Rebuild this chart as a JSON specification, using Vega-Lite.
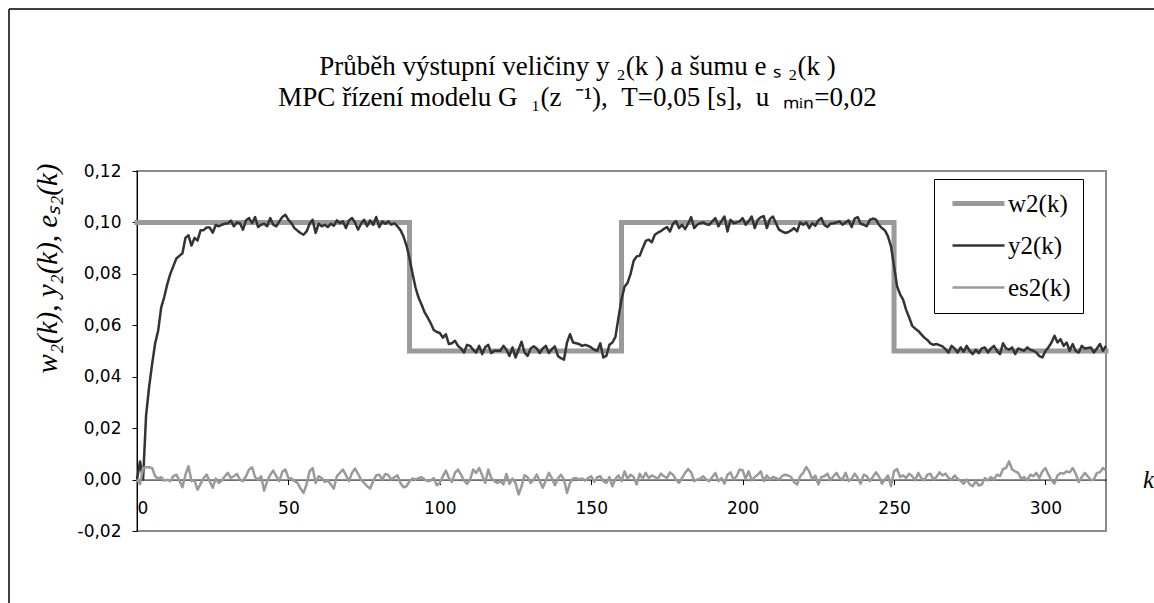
{
  "$schema": "https://vega.github.io/schema/vega-lite/v6.json",
  "autosize": {"type": "none"},
  "width": 969,
  "height": 360,
  "padding": {"left": 137, "top": 171, "right": 48, "bottom": 72},
  "background": "white",
  "title": {
    "text": ["Průběh výstupní veličiny y ₂(k ) a šumu e ₛ ₂(k )", "MPC řízení modelu G\u2002₁(z\u2002⁻¹),\u2002T=0,05 [s],\u2002u\u2002ₘᵢₙ=0,02"],
    "font": "Liberation Serif",
    "fontSize": 27,
    "fontWeight": "normal",
    "color": "black",
    "anchor": "middle",
    "frame": "group",
    "dx": -44,
    "offset": -104,
    "lineHeight": 31
  },
  "config": {
    "view": {"stroke": "#8c8c8c", "strokeWidth": 2},
    "axis": {
      "grid": false,
      "domainColor": "black",
      "domainWidth": 1,
      "tickColor": "black",
      "tickSize": 5,
      "labelColor": "black",
      "labelFont": "DejaVu Sans",
      "labelFontSize": 17,
      "titleColor": "black",
      "titleFont": "Liberation Serif",
      "titleFontStyle": "italic",
      "titleFontWeight": "normal"
    },
    "legend": {
      "title": null,
      "orient": "none",
      "legendX": 797,
      "legendY": 8,
      "strokeColor": "black",
      "fillColor": "white",
      "padding": 12,
      "symbolType": "M-2.6,0H2.6",
      "symbolSize": 400,
      "symbolOffset": 20,
      "labelFont": "Liberation Serif",
      "labelFontSize": 25,
      "labelColor": "black",
      "labelOffset": 17,
      "rowPadding": 16
    }
  },
  "datasets": {
    "main": [
      {"k":0,"y2(k)":0,"es2(k)":0},{"k":1,"y2(k)":0.007,"es2(k)":-0.0017},{"k":2,"y2(k)":0.0,"es2(k)":0.0045},{"k":3,"y2(k)":0.025,"es2(k)":0.0048},{"k":4,"y2(k)":0.036,"es2(k)":0.0048},{"k":5,"y2(k)":0.045,"es2(k)":0.0045},{"k":6,"y2(k)":0.053,"es2(k)":0.0013},{"k":7,"y2(k)":0.058,"es2(k)":0.0004},{"k":8,"y2(k)":0.067,"es2(k)":0.0009},{"k":9,"y2(k)":0.071,"es2(k)":-0.0004},
      {"k":10,"y2(k)":0.076,"es2(k)":-0.0001},{"k":11,"y2(k)":0.080,"es2(k)":-0.0006},{"k":12,"y2(k)":0.083,"es2(k)":0.0013},{"k":13,"y2(k)":0.086,"es2(k)":0.0019},{"k":14,"y2(k)":0.087,"es2(k)":-0.0004},{"k":15,"y2(k)":0.088,"es2(k)":-0.003},{"k":16,"y2(k)":0.094,"es2(k)":0.0019},{"k":17,"y2(k)":0.095,"es2(k)":0.0052},{"k":18,"y2(k)":0.091,"es2(k)":-0.0006},{"k":19,"y2(k)":0.094,"es2(k)":-0.0004},
      {"k":20,"y2(k)":0.093,"es2(k)":-0.0039},{"k":21,"y2(k)":0.097,"es2(k)":-0.0017},{"k":22,"y2(k)":0.097,"es2(k)":0.0006},{"k":23,"y2(k)":0.098,"es2(k)":0.0019},{"k":24,"y2(k)":0.098,"es2(k)":-0.0006},{"k":25,"y2(k)":0.096,"es2(k)":-0.0032},{"k":26,"y2(k)":0.099,"es2(k)":0.0004},{"k":27,"y2(k)":0.0985,"es2(k)":-0.0013},{"k":28,"y2(k)":0.0991,"es2(k)":-0.0004},{"k":29,"y2(k)":0.0995,"es2(k)":0.0013},
      {"k":30,"y2(k)":0.0997,"es2(k)":0.0026},{"k":31,"y2(k)":0.1007,"es2(k)":0.0006},{"k":32,"y2(k)":0.0985,"es2(k)":0.0013},{"k":33,"y2(k)":0.1,"es2(k)":0.0022},{"k":34,"y2(k)":0.0997,"es2(k)":0},{"k":35,"y2(k)":0.0972,"es2(k)":-0.0006},{"k":36,"y2(k)":0.1008,"es2(k)":0.0013},{"k":37,"y2(k)":0.1017,"es2(k)":0.0039},{"k":38,"y2(k)":0.0997,"es2(k)":0.0048},{"k":39,"y2(k)":0.1021,"es2(k)":0.0009},
      {"k":40,"y2(k)":0.0982,"es2(k)":0},{"k":41,"y2(k)":0.0991,"es2(k)":0.0013},{"k":42,"y2(k)":0.0995,"es2(k)":-0.0043},{"k":43,"y2(k)":0.0985,"es2(k)":-0.0006},{"k":44,"y2(k)":0.1017,"es2(k)":0.0019},{"k":45,"y2(k)":0.0991,"es2(k)":0.0035},{"k":46,"y2(k)":0.0985,"es2(k)":0.0013},{"k":47,"y2(k)":0.1004,"es2(k)":-0.0006},{"k":48,"y2(k)":0.1021,"es2(k)":0.003},{"k":49,"y2(k)":0.103,"es2(k)":0.0039},
      {"k":50,"y2(k)":0.101,"es2(k)":0.0006},{"k":51,"y2(k)":0.0997,"es2(k)":0.0004},{"k":52,"y2(k)":0.0978,"es2(k)":-0.0006},{"k":53,"y2(k)":0.0968,"es2(k)":-0.0013},{"k":54,"y2(k)":0.0959,"es2(k)":-0.0035},{"k":55,"y2(k)":0.0952,"es2(k)":-0.0052},{"k":56,"y2(k)":0.0965,"es2(k)":-0.0019},{"k":57,"y2(k)":0.0995,"es2(k)":0.0032},{"k":58,"y2(k)":0.101,"es2(k)":0.0045},{"k":59,"y2(k)":0.0959,"es2(k)":-0.0013},
      {"k":60,"y2(k)":0.0995,"es2(k)":0.0013},{"k":61,"y2(k)":0.0985,"es2(k)":0.0006},{"k":62,"y2(k)":0.0991,"es2(k)":-0.0009},{"k":63,"y2(k)":0.0982,"es2(k)":-0.0004},{"k":64,"y2(k)":0.0995,"es2(k)":-0.0019},{"k":65,"y2(k)":0.0987,"es2(k)":-0.0035},{"k":66,"y2(k)":0.1008,"es2(k)":0.0013},{"k":67,"y2(k)":0.0997,"es2(k)":0.0026},{"k":68,"y2(k)":0.1004,"es2(k)":0.0039},{"k":69,"y2(k)":0.0978,"es2(k)":0.0017},
      {"k":70,"y2(k)":0.1008,"es2(k)":-0.0006},{"k":71,"y2(k)":0.1017,"es2(k)":0.0026},{"k":72,"y2(k)":0.1,"es2(k)":0.0043},{"k":73,"y2(k)":0.0972,"es2(k)":0.0022},{"k":74,"y2(k)":0.0995,"es2(k)":0},{"k":75,"y2(k)":0.101,"es2(k)":-0.0013},{"k":76,"y2(k)":0.0985,"es2(k)":-0.0026},{"k":77,"y2(k)":0.1008,"es2(k)":-0.0035},{"k":78,"y2(k)":0.0991,"es2(k)":-0.0006},{"k":79,"y2(k)":0.1021,"es2(k)":0.0017},
      {"k":80,"y2(k)":0.0982,"es2(k)":0.0019},{"k":81,"y2(k)":0.1004,"es2(k)":0},{"k":82,"y2(k)":0.0995,"es2(k)":0.0022},{"k":83,"y2(k)":0.1004,"es2(k)":0.0017},{"k":84,"y2(k)":0.0991,"es2(k)":0},{"k":85,"y2(k)":0.0997,"es2(k)":0.0009},{"k":86,"y2(k)":0.0985,"es2(k)":0.0017},{"k":87,"y2(k)":0.097,"es2(k)":-0.0013},{"k":88,"y2(k)":0.0946,"es2(k)":-0.003},{"k":89,"y2(k)":0.091,"es2(k)":-0.0026},
      {"k":90,"y2(k)":0.086,"es2(k)":-0.0006},{"k":91,"y2(k)":0.080,"es2(k)":0.0004},{"k":92,"y2(k)":0.0746,"es2(k)":0},{"k":93,"y2(k)":0.0707,"es2(k)":0.0006},{"k":94,"y2(k)":0.068,"es2(k)":0.0009},{"k":95,"y2(k)":0.065,"es2(k)":0},{"k":96,"y2(k)":0.063,"es2(k)":-0.0006},{"k":97,"y2(k)":0.0608,"es2(k)":-0.0004},{"k":98,"y2(k)":0.0582,"es2(k)":0.0006},{"k":99,"y2(k)":0.0574,"es2(k)":-0.0022},
      {"k":100,"y2(k)":0.057,"es2(k)":-0.0013},{"k":101,"y2(k)":0.0552,"es2(k)":0.0013},{"k":102,"y2(k)":0.0565,"es2(k)":0.0035},{"k":103,"y2(k)":0.0527,"es2(k)":0.0006},{"k":104,"y2(k)":0.053,"es2(k)":-0.0009},{"k":105,"y2(k)":0.054,"es2(k)":0.0026},{"k":106,"y2(k)":0.052,"es2(k)":0.0039},{"k":107,"y2(k)":0.051,"es2(k)":0.0019},{"k":108,"y2(k)":0.0494,"es2(k)":-0.0004},{"k":109,"y2(k)":0.0524,"es2(k)":-0.0017},
      {"k":110,"y2(k)":0.052,"es2(k)":0},{"k":111,"y2(k)":0.0505,"es2(k)":0.0039},{"k":112,"y2(k)":0.0494,"es2(k)":0.0026},{"k":113,"y2(k)":0.052,"es2(k)":0.0045},{"k":114,"y2(k)":0.0488,"es2(k)":0.0017},{"k":115,"y2(k)":0.0515,"es2(k)":-0.0013},{"k":116,"y2(k)":0.0524,"es2(k)":0.0039},{"k":117,"y2(k)":0.0492,"es2(k)":0.0006},{"k":118,"y2(k)":0.0501,"es2(k)":-0.0006},{"k":119,"y2(k)":0.0501,"es2(k)":-0.0013},
      {"k":120,"y2(k)":0.0501,"es2(k)":-0.0006},{"k":121,"y2(k)":0.052,"es2(k)":-0.0019},{"k":122,"y2(k)":0.0505,"es2(k)":0.0022},{"k":123,"y2(k)":0.0481,"es2(k)":-0.0017},{"k":124,"y2(k)":0.0514,"es2(k)":0.0004},{"k":125,"y2(k)":0.0475,"es2(k)":-0.0013},{"k":126,"y2(k)":0.0505,"es2(k)":-0.0058},{"k":127,"y2(k)":0.0536,"es2(k)":-0.0026},{"k":128,"y2(k)":0.0494,"es2(k)":0.0017},{"k":129,"y2(k)":0.0481,"es2(k)":0.0009},
      {"k":130,"y2(k)":0.051,"es2(k)":-0.0013},{"k":131,"y2(k)":0.0518,"es2(k)":0},{"k":132,"y2(k)":0.051,"es2(k)":0.0019},{"k":133,"y2(k)":0.0492,"es2(k)":-0.0006},{"k":134,"y2(k)":0.051,"es2(k)":-0.0032},{"k":135,"y2(k)":0.052,"es2(k)":-0.0004},{"k":136,"y2(k)":0.0492,"es2(k)":0.0026},{"k":137,"y2(k)":0.0507,"es2(k)":0.0006},{"k":138,"y2(k)":0.0518,"es2(k)":-0.0022},{"k":139,"y2(k)":0.0481,"es2(k)":0.0004},
      {"k":140,"y2(k)":0.0472,"es2(k)":0.0019},{"k":141,"y2(k)":0.0466,"es2(k)":0},{"k":142,"y2(k)":0.0533,"es2(k)":-0.0052},{"k":143,"y2(k)":0.0565,"es2(k)":-0.0013},{"k":144,"y2(k)":0.0533,"es2(k)":0.0004},{"k":145,"y2(k)":0.053,"es2(k)":0.0006},{"k":146,"y2(k)":0.0527,"es2(k)":0},{"k":147,"y2(k)":0.052,"es2(k)":0.0004},{"k":148,"y2(k)":0.0524,"es2(k)":-0.0004},{"k":149,"y2(k)":0.052,"es2(k)":0.0006},
      {"k":150,"y2(k)":0.0514,"es2(k)":0.0013},{"k":151,"y2(k)":0.0505,"es2(k)":-0.0009},{"k":152,"y2(k)":0.0501,"es2(k)":0.0009},{"k":153,"y2(k)":0.053,"es2(k)":0.0013},{"k":154,"y2(k)":0.0475,"es2(k)":-0.0006},{"k":155,"y2(k)":0.0481,"es2(k)":-0.0013},{"k":156,"y2(k)":0.0524,"es2(k)":0.001},{"k":157,"y2(k)":0.0533,"es2(k)":-0.0026},{"k":158,"y2(k)":0.0555,"es2(k)":0.0003},{"k":159,"y2(k)":0.063,"es2(k)":0.0016},
      {"k":160,"y2(k)":0.070,"es2(k)":-0.0006},{"k":161,"y2(k)":0.075,"es2(k)":0.0032},{"k":162,"y2(k)":0.0765,"es2(k)":0.0003},{"k":163,"y2(k)":0.080,"es2(k)":0.0019},{"k":164,"y2(k)":0.085,"es2(k)":0.001},{"k":165,"y2(k)":0.0868,"es2(k)":-0.0019},{"k":166,"y2(k)":0.087,"es2(k)":0.0023},{"k":167,"y2(k)":0.090,"es2(k)":0.0003},{"k":168,"y2(k)":0.0928,"es2(k)":0.0026},{"k":169,"y2(k)":0.0933,"es2(k)":0.0006},
      {"k":170,"y2(k)":0.0923,"es2(k)":0.0016},{"k":171,"y2(k)":0.0952,"es2(k)":0.001},{"k":172,"y2(k)":0.096,"es2(k)":0.0003},{"k":173,"y2(k)":0.0966,"es2(k)":0.0023},{"k":174,"y2(k)":0.0975,"es2(k)":0.0013},{"k":175,"y2(k)":0.0982,"es2(k)":0.0006},{"k":176,"y2(k)":0.0965,"es2(k)":0.0028},{"k":177,"y2(k)":0.0995,"es2(k)":0.0019},{"k":178,"y2(k)":0.1005,"es2(k)":0},{"k":179,"y2(k)":0.0978,"es2(k)":-0.0013},
      {"k":180,"y2(k)":0.0991,"es2(k)":0.0006},{"k":181,"y2(k)":0.0974,"es2(k)":0.0026},{"k":182,"y2(k)":0.0995,"es2(k)":0.0041},{"k":183,"y2(k)":0.1021,"es2(k)":0.0028},{"k":184,"y2(k)":0.0978,"es2(k)":-0.0006},{"k":185,"y2(k)":0.0991,"es2(k)":0},{"k":186,"y2(k)":0.0997,"es2(k)":0.0003},{"k":187,"y2(k)":0.1,"es2(k)":0.0013},{"k":188,"y2(k)":0.0993,"es2(k)":0},{"k":189,"y2(k)":0.0991,"es2(k)":-0.0006},
      {"k":190,"y2(k)":0.1004,"es2(k)":0.001},{"k":191,"y2(k)":0.1017,"es2(k)":0.0026},{"k":192,"y2(k)":0.0985,"es2(k)":-0.0006},{"k":193,"y2(k)":0.1005,"es2(k)":0.0006},{"k":194,"y2(k)":0.1023,"es2(k)":-0.0016},{"k":195,"y2(k)":0.0965,"es2(k)":0.0019},{"k":196,"y2(k)":0.101,"es2(k)":0.0028},{"k":197,"y2(k)":0.0997,"es2(k)":0},{"k":198,"y2(k)":0.1,"es2(k)":0.0013},{"k":199,"y2(k)":0.1004,"es2(k)":0.0039},
      {"k":200,"y2(k)":0.1017,"es2(k)":0.0036},{"k":201,"y2(k)":0.0991,"es2(k)":0.0003},{"k":202,"y2(k)":0.1005,"es2(k)":0.0032},{"k":203,"y2(k)":0.1023,"es2(k)":-0.0003},{"k":204,"y2(k)":0.0978,"es2(k)":0.001},{"k":205,"y2(k)":0.101,"es2(k)":0.0019},{"k":206,"y2(k)":0.102,"es2(k)":0.0032},{"k":207,"y2(k)":0.1024,"es2(k)":-0.0006},{"k":208,"y2(k)":0.0978,"es2(k)":0.0016},{"k":209,"y2(k)":0.1013,"es2(k)":0},
      {"k":210,"y2(k)":0.1023,"es2(k)":0.001},{"k":211,"y2(k)":0.0997,"es2(k)":0.0006},{"k":212,"y2(k)":0.0972,"es2(k)":0},{"k":213,"y2(k)":0.0965,"es2(k)":0.0013},{"k":214,"y2(k)":0.0959,"es2(k)":0.0019},{"k":215,"y2(k)":0.0962,"es2(k)":0.0016},{"k":216,"y2(k)":0.0969,"es2(k)":0.001},{"k":217,"y2(k)":0.0978,"es2(k)":-0.001},{"k":218,"y2(k)":0.0965,"es2(k)":-0.0019},{"k":219,"y2(k)":0.1,"es2(k)":0.0013},
      {"k":220,"y2(k)":0.0991,"es2(k)":0.0026},{"k":221,"y2(k)":0.1,"es2(k)":0.0049},{"k":222,"y2(k)":0.0978,"es2(k)":0.0032},{"k":223,"y2(k)":0.0997,"es2(k)":0},{"k":224,"y2(k)":0.0987,"es2(k)":0.0016},{"k":225,"y2(k)":0.1008,"es2(k)":-0.0019},{"k":226,"y2(k)":0.1017,"es2(k)":0.001},{"k":227,"y2(k)":0.099,"es2(k)":0.0013},{"k":228,"y2(k)":0.0982,"es2(k)":0.0023},{"k":229,"y2(k)":0.0995,"es2(k)":-0.0003},
      {"k":230,"y2(k)":0.0997,"es2(k)":0.0013},{"k":231,"y2(k)":0.1,"es2(k)":0.0026},{"k":232,"y2(k)":0.1004,"es2(k)":0.0006},{"k":233,"y2(k)":0.0991,"es2(k)":0},{"k":234,"y2(k)":0.1,"es2(k)":0.0026},{"k":235,"y2(k)":0.1008,"es2(k)":-0.0006},{"k":236,"y2(k)":0.0982,"es2(k)":0.0003},{"k":237,"y2(k)":0.1015,"es2(k)":0.0023},{"k":238,"y2(k)":0.1021,"es2(k)":0.0006},{"k":239,"y2(k)":0.0995,"es2(k)":-0.0016},
      {"k":240,"y2(k)":0.0991,"es2(k)":0.0019},{"k":241,"y2(k)":0.0985,"es2(k)":0.0013},{"k":242,"y2(k)":0.101,"es2(k)":-0.0006},{"k":243,"y2(k)":0.1015,"es2(k)":0.001},{"k":244,"y2(k)":0.1012,"es2(k)":0.0028},{"k":245,"y2(k)":0.0991,"es2(k)":0.0013},{"k":246,"y2(k)":0.0978,"es2(k)":-0.0016},{"k":247,"y2(k)":0.0969,"es2(k)":0},{"k":248,"y2(k)":0.0946,"es2(k)":0.0016},{"k":249,"y2(k)":0.0907,"es2(k)":-0.0026},
      {"k":250,"y2(k)":0.083,"es2(k)":0.0032},{"k":251,"y2(k)":0.0752,"es2(k)":0.0041},{"k":252,"y2(k)":0.072,"es2(k)":0.001},{"k":253,"y2(k)":0.070,"es2(k)":0.0016},{"k":254,"y2(k)":0.066,"es2(k)":0.0006},{"k":255,"y2(k)":0.063,"es2(k)":0.0023},{"k":256,"y2(k)":0.0598,"es2(k)":0.0013},{"k":257,"y2(k)":0.0587,"es2(k)":-0.0003},{"k":258,"y2(k)":0.0578,"es2(k)":0.0026},{"k":259,"y2(k)":0.0565,"es2(k)":0.0006},
      {"k":260,"y2(k)":0.0552,"es2(k)":-0.0003},{"k":261,"y2(k)":0.0543,"es2(k)":0.0019},{"k":262,"y2(k)":0.053,"es2(k)":0.0023},{"k":263,"y2(k)":0.0524,"es2(k)":0},{"k":264,"y2(k)":0.0527,"es2(k)":0.001},{"k":265,"y2(k)":0.0523,"es2(k)":0.0028},{"k":266,"y2(k)":0.0518,"es2(k)":0.0016},{"k":267,"y2(k)":0.0507,"es2(k)":0.0023},{"k":268,"y2(k)":0.0494,"es2(k)":0.0006},{"k":269,"y2(k)":0.052,"es2(k)":0},
      {"k":270,"y2(k)":0.051,"es2(k)":0.0016},{"k":271,"y2(k)":0.0494,"es2(k)":0.0003},{"k":272,"y2(k)":0.0514,"es2(k)":-0.0006},{"k":273,"y2(k)":0.0497,"es2(k)":-0.0016},{"k":274,"y2(k)":0.052,"es2(k)":0},{"k":275,"y2(k)":0.050,"es2(k)":-0.0019},{"k":276,"y2(k)":0.0488,"es2(k)":-0.0026},{"k":277,"y2(k)":0.0505,"es2(k)":-0.0006},{"k":278,"y2(k)":0.0492,"es2(k)":-0.0023},{"k":279,"y2(k)":0.051,"es2(k)":-0.0019},
      {"k":280,"y2(k)":0.0514,"es2(k)":0.0006},{"k":281,"y2(k)":0.0494,"es2(k)":-0.0003},{"k":282,"y2(k)":0.051,"es2(k)":0.001},{"k":283,"y2(k)":0.052,"es2(k)":0},{"k":284,"y2(k)":0.050,"es2(k)":0.0019},{"k":285,"y2(k)":0.0488,"es2(k)":0.0013},{"k":286,"y2(k)":0.053,"es2(k)":0.0041},{"k":287,"y2(k)":0.051,"es2(k)":0.0045},{"k":288,"y2(k)":0.0505,"es2(k)":0.0071},{"k":289,"y2(k)":0.0514,"es2(k)":0.0039},
      {"k":290,"y2(k)":0.0488,"es2(k)":0.0032},{"k":291,"y2(k)":0.051,"es2(k)":0.0026},{"k":292,"y2(k)":0.0505,"es2(k)":0.0003},{"k":293,"y2(k)":0.0501,"es2(k)":0.001},{"k":294,"y2(k)":0.0514,"es2(k)":-0.0003},{"k":295,"y2(k)":0.0505,"es2(k)":0.0019},{"k":296,"y2(k)":0.0501,"es2(k)":0.0013},{"k":297,"y2(k)":0.0494,"es2(k)":0.0026},{"k":298,"y2(k)":0.048,"es2(k)":0.0006},{"k":299,"y2(k)":0.0475,"es2(k)":0.0032},
      {"k":300,"y2(k)":0.050,"es2(k)":0.0045},{"k":301,"y2(k)":0.0514,"es2(k)":0.0019},{"k":302,"y2(k)":0.0533,"es2(k)":-0.0003},{"k":303,"y2(k)":0.0559,"es2(k)":-0.0016},{"k":304,"y2(k)":0.0533,"es2(k)":0.0016},{"k":305,"y2(k)":0.0546,"es2(k)":0.0026},{"k":306,"y2(k)":0.052,"es2(k)":0.0023},{"k":307,"y2(k)":0.0533,"es2(k)":0.0032},{"k":308,"y2(k)":0.0501,"es2(k)":0.0028},{"k":309,"y2(k)":0.0527,"es2(k)":0.0045},
      {"k":310,"y2(k)":0.050,"es2(k)":0.0023},{"k":311,"y2(k)":0.0494,"es2(k)":-0.001},{"k":312,"y2(k)":0.052,"es2(k)":0.001},{"k":313,"y2(k)":0.051,"es2(k)":0.0026},{"k":314,"y2(k)":0.0512,"es2(k)":0.0013},{"k":315,"y2(k)":0.0514,"es2(k)":-0.0003},{"k":316,"y2(k)":0.0494,"es2(k)":0},{"k":317,"y2(k)":0.051,"es2(k)":0.0026},{"k":318,"y2(k)":0.0527,"es2(k)":0.0028},{"k":319,"y2(k)":0.0501,"es2(k)":0.0045},
      {"k":320,"y2(k)":0.052,"es2(k)":0.0036}
    ],
    "setpoint": [
      {"k":0,"v":0.1,"s":"w2(k)"},{"k":90,"v":0.05,"s":"w2(k)"},{"k":160,"v":0.1,"s":"w2(k)"},{"k":250,"v":0.05,"s":"w2(k)"},{"k":320,"v":0.05,"s":"w2(k)"}
    ]
  },
  "layer": [
    {
      "data": {"values": [{}]},
      "mark": {"type": "rule", "color": "black", "strokeWidth": 1.5, "clip": false},
      "encoding": {
        "x": {"datum": -42.27, "type": "quantitative", "scale": {"domain": [0, 320], "nice": false, "zero": false}},
        "x2": {"datum": 340},
        "y": {"datum": 0.183, "type": "quantitative", "scale": {"domain": [-0.02, 0.12], "nice": false, "zero": false}}
      }
    },
    {
      "data": {"values": [{}]},
      "mark": {"type": "rule", "color": "black", "strokeWidth": 1.5, "clip": false},
      "encoding": {
        "x": {"datum": -42.27, "type": "quantitative"},
        "y": {"datum": 0.183, "type": "quantitative"},
        "y2": {"datum": -0.06}
      }
    },
    {
      "data": {"name": "setpoint"},
      "mark": {"type": "line", "interpolate": "step-after", "strokeCap": "square"},
      "encoding": {
        "x": {"field": "k", "type": "quantitative"},
        "y": {"field": "v", "type": "quantitative"},
        "color": {
          "field": "s", "type": "nominal",
          "scale": {"domain": ["w2(k)", "y2(k)", "es2(k)"], "range": ["#9a9a9a", "#333333", "#9a9a9a"]}
        },
        "strokeWidth": {
          "field": "s", "type": "nominal",
          "scale": {"type": "ordinal", "domain": ["w2(k)", "y2(k)", "es2(k)"], "range": [5, 2.5, 2.5]}
        }
      }
    },
    {
      "data": {"name": "main"},
      "transform": [{"fold": ["y2(k)", "es2(k)"], "as": ["s", "v"]}],
      "mark": {"type": "line", "strokeJoin": "round"},
      "encoding": {
        "x": {
          "field": "k", "type": "quantitative",
          "axis": {
            "values": [0, 50, 100, 150, 200, 250, 300],
            "offset": -51.43,
            "labelPadding": 16,
            "title": "k",
            "titleFontSize": 25,
            "titleX": 1011,
            "titleY": 0,
            "titleAlign": "center",
            "titleBaseline": "middle",
            "titleAngle": 0
          }
        },
        "y": {
          "field": "v", "type": "quantitative",
          "axis": {
            "values": [-0.02, 0, 0.02, 0.04, 0.06, 0.08, 0.1, 0.12],
            "labelExpr": "replace(replace(format(datum.value, '.2f'), '.', ','), '\u2212', '-')",
            "labelPadding": 11,
            "title": "w₂(k), y₂(k), eₛ₂(k)",
            "titleFontSize": 29,
            "titleAngle": -90,
            "titleX": -90,
            "titleY": 97,
            "titleAlign": "center",
            "titleBaseline": "middle"
          }
        },
        "color": {
          "field": "s", "type": "nominal",
          "scale": {"domain": ["w2(k)", "y2(k)", "es2(k)"], "range": ["#9a9a9a", "#333333", "#9a9a9a"]}
        },
        "strokeWidth": {
          "field": "s", "type": "nominal",
          "scale": {"type": "ordinal", "domain": ["w2(k)", "y2(k)", "es2(k)"], "range": [5, 2.5, 2.5]}
        }
      }
    }
  ]
}
